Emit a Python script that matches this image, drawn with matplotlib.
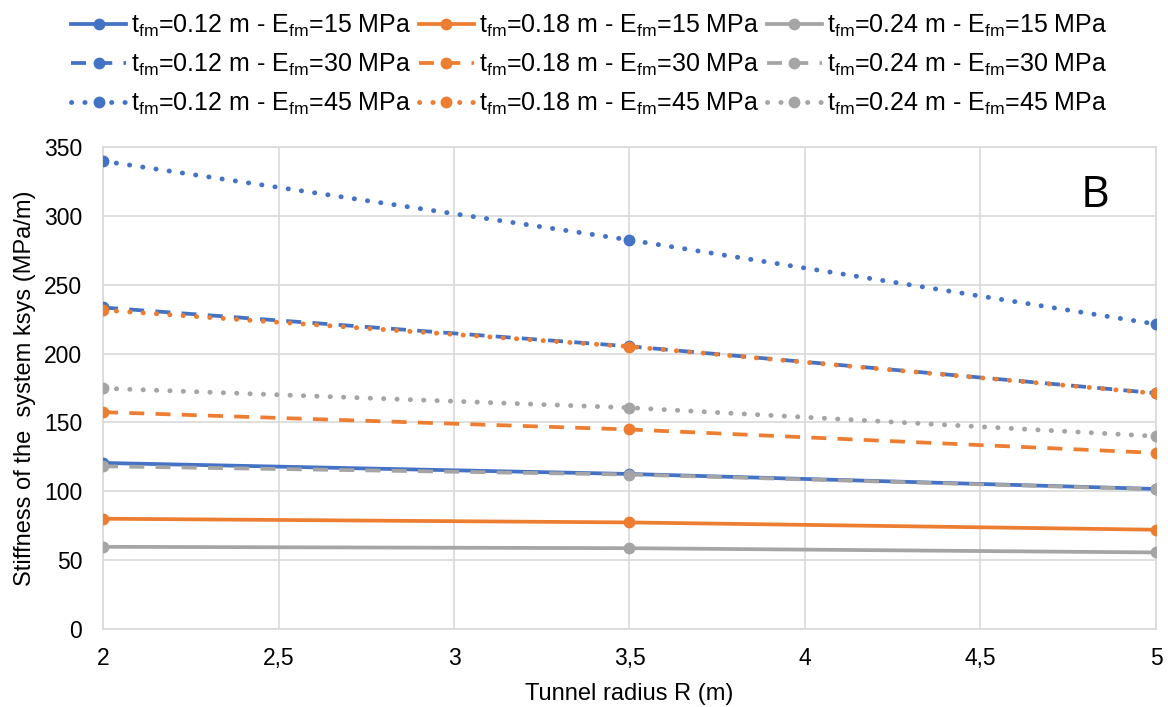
import matplotlib
matplotlib.use("Agg")
import matplotlib.pyplot as plt
from matplotlib.ticker import FuncFormatter, MultipleLocator

plt.rcParams['font.family'] = ['Liberation Sans', 'DejaVu Sans']
plt.rcParams['mathtext.default'] = 'regular'

radius = [2, 3.5, 5]

# order: thickness 0.12 / 0.18 / 0.24, each with E = 15 / 30 / 45
thickness = ["0.12", "0.18", "0.24"]
modulus = ["15", "30", "45"]

k_012_15 = [120.6, 112.6, 101.7]
k_012_30 = [233.5, 205.3, 171.3]
k_012_45 = [339.8, 282.5, 221.4]
k_018_15 = [80.1, 77.4, 72.1]
k_018_30 = [157.5, 144.9, 127.9]
k_018_45 = [231.6, 205.1, 171.1]
k_024_15 = [59.7, 58.7, 55.6]
k_024_30 = [118.2, 112.2, 101.5]
k_024_45 = [174.8, 160.7, 140.0]

series = [
    [k_012_15, k_012_30, k_012_45],
    [k_018_15, k_018_30, k_018_45],
    [k_024_15, k_024_30, k_024_45],
]

colors = ["#4472C4", "#ED7D31", "#A5A5A5"]
styles = ["-", (0, (4.0, 3.0)), (0, (0.05, 2.7))]

fig = plt.figure(figsize=(11.68, 7.07), dpi=100)
ax = fig.add_axes([0.0882, 0.1103, 0.9015, 0.6817])

handles = []
for i, t in enumerate(thickness):
    for j, e in enumerate(modulus):
        lab = f"t$_{{fm}}$={t} m - E$_{{fm}}$={e} MPa"
        ln, = ax.plot(radius, series[i][j], color=colors[i], linestyle=styles[j],
                      linewidth=3.5 if j == 2 else 2.7, marker='o', markersize=7.5,
                      dash_capstyle='round' if j == 2 else 'butt',
                      label=lab, zorder=3)
        handles.append(ln)

ax.set_xlim(2, 5)
ax.set_ylim(0, 350)
ax.xaxis.set_major_locator(MultipleLocator(0.5))
ax.yaxis.set_major_locator(MultipleLocator(50))
ax.xaxis.set_major_formatter(FuncFormatter(lambda v, p: f"{v:g}".replace(".", ",")))
ax.grid(True, color="#D9D9D9", linewidth=1.2)
ax.set_axisbelow(True)
for s in ax.spines.values():
    s.set_color("#D9D9D9")
    s.set_linewidth(1.2)
ax.tick_params(length=0, labelsize=16.5, colors="#000000")
ax.tick_params(axis='x', pad=13)
ax.tick_params(axis='y', pad=15)

ax.set_xlabel("Tunnel radius R (m)", fontsize=17, labelpad=9)
ax.set_ylabel("Stiffness of the  system ksys (MPa/m)", fontsize=17, labelpad=6)
ax.text(0.942, 0.898, "B", transform=ax.transAxes, fontsize=32,
        family=['Open Sans', 'DejaVu Sans'], ha='center', va='center')

fig.legend(handles=handles, ncol=3, loc='upper left', bbox_to_anchor=(0.0608, 0.982),
           frameon=False, fontsize=18, handlelength=2.2, columnspacing=0.3,
           handletextpad=0.2, labelspacing=0.52, borderpad=0, borderaxespad=0)

fig.savefig("out.png", dpi=100)
